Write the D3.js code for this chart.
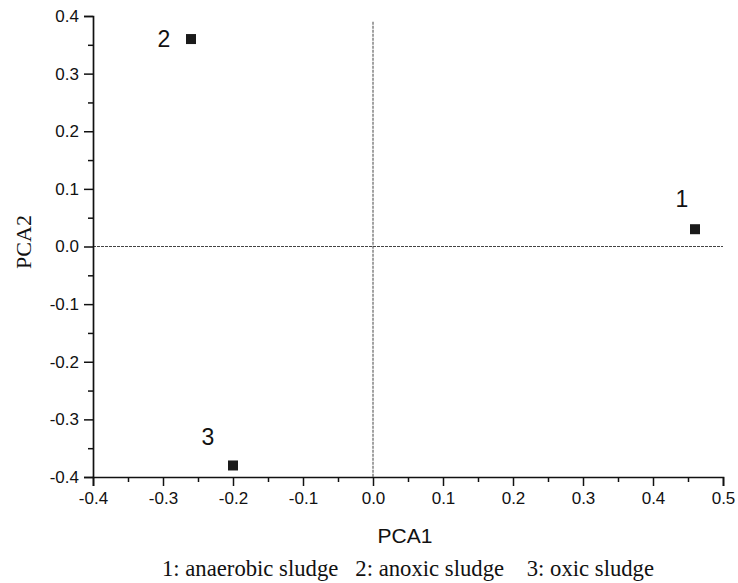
<!DOCTYPE html>
<html>
<head>
<meta charset="utf-8">
<script src="https://cdn.jsdelivr.net/npm/d3@7"></script>
<style>
  body { margin: 0; background: #fff; }
</style>
</head>
<body>
<div id="chart"></div>
<script>
// data
var labels = ["1", "2", "3"];
var pca1 = [0.46, -0.26, -0.20];
var pca2 = [0.03, 0.36, -0.38];
var xTicks = [-0.4, -0.3, -0.2, -0.1, 0.0, 0.1, 0.2, 0.3, 0.4, 0.5];
var yTicks = [-0.4, -0.3, -0.2, -0.1, 0.0, 0.1, 0.2, 0.3, 0.4];
var caption = "1: anaerobic sludge   2: anoxic sludge    3: oxic sludge";

var W = 738, H = 583;
var margin = { top: 16, right: 15, bottom: 106, left: 93 },
    width = 723 - margin.left,
    height = 477 - margin.top;

var svg = d3.select("#chart")
    .append("svg")
    .attr("width", W)
    .attr("height", H)
    .append("g")
    .attr("transform", "translate(" + margin.left + "," + margin.top + ")");

var x = d3.scaleLinear().domain([-0.4, 0.5]).range([0, width]);
var y = d3.scaleLinear().domain([-0.4, 0.4]).range([height, 0]);

// minor ticks (half steps)
var xMinor = d3.range(-0.35, 0.5, 0.1);
var yMinor = d3.range(-0.35, 0.4, 0.1);

// plain hyphen for negatives, like the original
var fmt = function (d) { return d3.format(".1f")(d).replace("\u2212", "-"); };

// dashed zero lines
svg.append("line")
    .attr("x1", x(0)).attr("x2", x(0))
    .attr("y1", y(0.39)).attr("y2", y(-0.4))
    .attr("stroke", "#444").attr("stroke-width", 1)
    .attr("stroke-dasharray", "3,1");
svg.append("line")
    .attr("x1", x(-0.4)).attr("x2", x(0.5))
    .attr("y1", y(0)).attr("y2", y(0))
    .attr("stroke", "#444").attr("stroke-width", 1)
    .attr("stroke-dasharray", "3,1");

// X axis
svg.append("g")
    .attr("transform", "translate(0," + height + ")")
    .call(d3.axisBottom(x).tickValues(xTicks).tickFormat(fmt).tickSize(9).tickPadding(6));
svg.append("g")
    .attr("transform", "translate(0," + height + ")")
    .call(d3.axisBottom(x).tickValues(xMinor).tickFormat("").tickSize(5))
    .select(".domain").remove();

// Y axis
svg.append("g")
    .call(d3.axisLeft(y).tickValues(yTicks).tickFormat(fmt).tickSize(9).tickPadding(5));
svg.append("g")
    .call(d3.axisLeft(y).tickValues(yMinor).tickFormat("").tickSize(5))
    .select(".domain").remove();

svg.selectAll(".domain").attr("stroke", "#111").attr("stroke-width", 1.7);
svg.selectAll(".tick line").attr("stroke", "#111").attr("stroke-width", 1.5);
svg.selectAll(".tick text")
    .style("font-family", "'Liberation Sans', Arial, sans-serif")
    .style("font-size", "17px")
    .attr("fill", "#111");

// points
svg.selectAll("mysquare")
    .data(labels)
    .enter()
    .append("rect")
    .attr("x", function (d, i) { return x(pca1[i]) - 5; })
    .attr("y", function (d, i) { return y(pca2[i]) - 5; })
    .attr("width", 10)
    .attr("height", 10)
    .attr("fill", "#1a1a1a");

// point labels
var labelOffset = [[-13, -22], [-27, 8], [-25, -20]];
svg.selectAll("mylabel")
    .data(labels)
    .enter()
    .append("text")
    .attr("x", function (d, i) { return x(pca1[i]) + labelOffset[i][0]; })
    .attr("y", function (d, i) { return y(pca2[i]) + labelOffset[i][1]; })
    .attr("text-anchor", "middle")
    .style("font-family", "'Liberation Sans', Arial, sans-serif")
    .style("font-size", "23px")
    .attr("fill", "#111")
    .text(function (d) { return d; });

// axis titles
svg.append("text")
    .attr("x", 405 - margin.left)
    .attr("y", 543 - margin.top)
    .attr("text-anchor", "middle")
    .style("font-family", "'Liberation Sans', Arial, sans-serif")
    .style("font-size", "21px")
    .attr("fill", "#111")
    .text("PCA1");

svg.append("text")
    .attr("transform", "translate(" + (31 - margin.left) + "," + (242 - margin.top) + ") rotate(-90)")
    .attr("text-anchor", "middle")
    .style("font-family", "'Liberation Serif', 'Times New Roman', serif")
    .style("font-size", "22px")
    .attr("fill", "#111")
    .text("PCA2");

// caption
svg.append("text")
    .attr("x", 408 - margin.left)
    .attr("y", 576 - margin.top)
    .attr("text-anchor", "middle")
    .attr("xml:space", "preserve")
    .style("white-space", "pre")
    .style("font-family", "'Liberation Serif', 'Times New Roman', serif")
    .style("font-size", "22.7px")
    .attr("fill", "#111")
    .text(caption);
</script>
</body>
</html>
